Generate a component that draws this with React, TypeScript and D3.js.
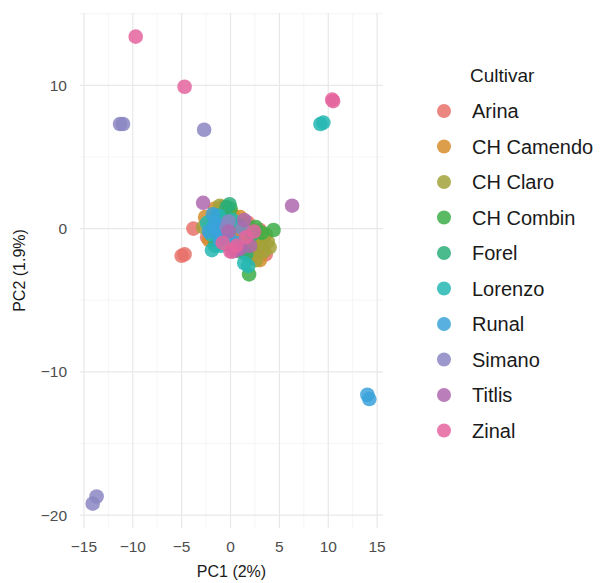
import React, { useEffect, useRef } from 'react';
import * as d3 from 'd3';

// cultivar names and their colours
const cultivars = ['Arina', 'CH Camendo', 'CH Claro', 'CH Combin', 'Forel', 'Lorenzo', 'Runal', 'Simano', 'Titlis', 'Zinal'];
const colors = ['#E8716A', '#D68D2C', '#A2A23A', '#3DAE48', '#2CAE78', '#26B7B3', '#3AA2DA', '#8B86C2', '#AE68AE', '#E4649E'];

// PC1 / PC2 scores
const arina = [[-5.0, -1.9], [-4.7, -1.8], [-3.8, 0.0], [3.0, -0.1], [0.2, -1.2], [1.8, 0.4], [-1.0, -0.4], [2.6, -1.6], [0.8, -0.6], [2.8, -0.9], [3.6, -1.8], [1.2, -0.2], [-2.4, -0.6]];
const camendo = [[-2.6, 0.8], [-2.0, 0.2], [2.2, -0.8], [2.8, -1.4], [1.0, 0.8], [3.4, -0.6], [-0.6, 1.2], [2.0, -2.0], [0.4, -0.2], [-1.6, 1.4], [3.0, -2.2], [1.8, -1.2], [-2.2, -0.8], [0.2, 1.0]];
const claro = [[-2.8, 0.1], [-1.1, 1.6], [4.0, -1.3], [3.6, -0.4], [1.4, -1.0], [0.6, 0.4], [2.6, -2.2], [-1.6, -0.8], [3.0, -1.0], [3.8, -0.9], [2.2, -1.6], [-0.8, 1.5], [3.4, -1.6], [-1.8, 0.6], [1.8, 0.2]];
const combin = [[1.9, -3.2], [4.4, -0.1], [2.6, 0.1], [0.0, 1.4], [-1.2, -0.6], [1.0, -1.6], [3.2, -0.3]];
const forel = [[-0.1, 1.7], [-1.6, -1.2], [0.8, 0.2], [2.2, -0.4], [-0.6, 0.6], [1.6, -1.8], [-0.4, 1.5], [-1.4, 0.9]];
const lorenzo = [[9.2, 7.3], [9.5, 7.4], [-1.8, 0.2], [-1.9, -1.5], [-1.2, 0.9], [-0.4, -0.8], [1.4, -2.4], [0.2, 0.6], [-1.4, -0.4], [-2.0, -0.4], [-0.6, 0.0], [-2.4, 0.4], [1.8, -2.6], [-1.0, -1.2]];
const runal = [[14.0, -11.6], [14.2, -11.9], [-1.1, -0.8], [-1.6, 0.4], [-0.8, 0.2], [0.6, -1.0], [-2.2, -0.2], [-1.4, 0.0], [-0.9, -0.6], [-1.8, 1.0], [-0.2, -0.4]];
const simano = [[-11.3, 7.3], [-11.0, 7.3], [-2.7, 6.9], [-13.7, -18.7], [-14.1, -19.2], [-0.4, 0.1], [1.2, 0.0], [0.4, -1.4], [-0.2, 0.5]];
const titlis = [[-2.8, 1.8], [6.3, 1.6], [0.6, -1.5], [-0.2, -0.2], [2.0, -1.2], [1.4, 0.6], [0.2, -1.6], [1.0, -1.4]];
const zinal = [[-9.7, 13.4], [-4.7, 9.9], [10.5, 8.9], [10.4, 9.0], [0.0, -1.6], [2.4, -0.2], [-0.8, -1.0], [1.6, -0.6], [0.6, -1.2]];

const scores = [arina, camendo, claro, combin, forel, lorenzo, runal, simano, titlis, zinal];

const xTicks = [-15, -10, -5, 0, 5, 10, 15];
const yTicks = [-20, -10, 0, 10];

const App = () => {
  const svgRef = useRef(null);

  useEffect(() => {
    const width = 600;
    const height = 583;
    const panel = { left: 80, right: 383, top: 13, bottom: 528 };
    const font = '"Liberation Sans", Arial, sans-serif';

    d3.select(svgRef.current).selectAll('*').remove();
    const svg = d3.select(svgRef.current).attr('width', width).attr('height', height);

    const x = d3.scaleLinear().domain([-15.4, 15.6]).range([panel.left, panel.right]);
    const y = d3.scaleLinear().domain([-20.9, 15.05]).range([panel.bottom, panel.top]);

    // minor grid
    const xMinor = xTicks.slice(0, -1).map((t) => t + 2.5);
    const yMinor = [-15, -5, 5, 15];
    svg.selectAll('.xminor').data(xMinor).join('line')
      .attr('x1', (d) => x(d)).attr('x2', (d) => x(d))
      .attr('y1', panel.top).attr('y2', panel.bottom)
      .attr('stroke', '#f2f2f2').attr('stroke-width', 0.8);
    svg.selectAll('.yminor').data(yMinor).join('line')
      .attr('x1', panel.left).attr('x2', panel.right)
      .attr('y1', (d) => y(d)).attr('y2', (d) => y(d))
      .attr('stroke', '#f2f2f2').attr('stroke-width', 0.8);

    // major grid
    const grid = svg.append('g');
    grid.selectAll('.xg').data(xTicks).join('line')
      .attr('x1', (d) => x(d)).attr('x2', (d) => x(d))
      .attr('y1', panel.top).attr('y2', panel.bottom)
      .attr('stroke', '#e8e8e8').attr('stroke-width', 1.2);
    grid.selectAll('.yg').data(yTicks).join('line')
      .attr('x1', panel.left).attr('x2', panel.right)
      .attr('y1', (d) => y(d)).attr('y2', (d) => y(d))
      .attr('stroke', '#e8e8e8').attr('stroke-width', 1.2);

    // tick labels
    const fmt = (d) => (d < 0 ? '\u2212' + Math.abs(d) : String(d));
    svg.append('g').selectAll('text').data(xTicks).join('text')
      .attr('x', (d) => x(d)).attr('y', 552)
      .attr('text-anchor', 'middle')
      .attr('font-family', font).attr('font-size', 15.5).attr('fill', '#4d4d4d')
      .text(fmt);
    svg.append('g').selectAll('text').data(yTicks).join('text')
      .attr('x', 67).attr('y', (d) => y(d) + 5.5)
      .attr('text-anchor', 'end')
      .attr('font-family', font).attr('font-size', 15.5).attr('fill', '#4d4d4d')
      .text(fmt);

    // axis titles
    svg.append('text')
      .attr('x', (panel.left + panel.right) / 2).attr('y', 577)
      .attr('text-anchor', 'middle')
      .attr('font-family', font).attr('font-size', 16).attr('fill', '#1a1a1a')
      .text('PC1 (2%)');
    svg.append('text')
      .attr('transform', `translate(25,${(panel.top + panel.bottom) / 2}) rotate(-90)`)
      .attr('text-anchor', 'middle')
      .attr('font-family', font).attr('font-size', 16).attr('fill', '#1a1a1a')
      .text('PC2 (1.9%)');

    // points
    const pts = svg.append('g');
    scores.forEach((list, i) => {
      pts.selectAll(`.p${i}`).data(list).join('circle')
        .attr('cx', (d) => x(d[0])).attr('cy', (d) => y(d[1]))
        .attr('r', 7.3)
        .attr('fill', colors[i])
        .attr('fill-opacity', 0.85);
    });

    // legend
    const legend = svg.append('g');
    legend.append('text')
      .attr('x', 470).attr('y', 82)
      .attr('font-family', font).attr('font-size', 19).attr('fill', '#1a1a1a')
      .text('Cultivar');
    const rows = legend.selectAll('.row').data(cultivars).join('g')
      .attr('transform', (d, i) => `translate(0,${111 + i * 35.5})`);
    rows.append('circle')
      .attr('cx', 444).attr('cy', 0).attr('r', 7)
      .attr('fill', (d, i) => colors[i]).attr('fill-opacity', 0.85);
    rows.append('text')
      .attr('x', 472).attr('y', 7)
      .attr('font-family', font).attr('font-size', 20).attr('fill', '#1a1a1a')
      .text((d) => d);
  }, []);

  return <svg ref={svgRef} style={{ position: 'absolute', left: 0, top: 0 }}></svg>;
};

export default App;
